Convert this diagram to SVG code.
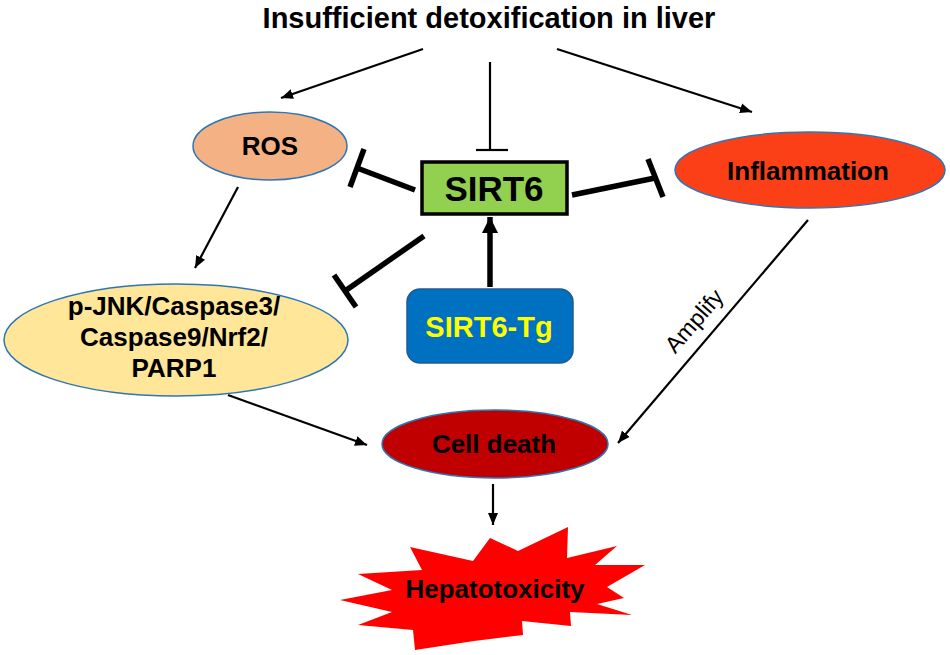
<svg xmlns="http://www.w3.org/2000/svg" width="950" height="655" viewBox="0 0 950 655">
<style>
  text { font-family: "Liberation Sans", Arial, sans-serif; font-weight: bold; text-anchor: middle; fill: #000; }
  text.label { font-weight: normal; }
  .thin { stroke: #000; stroke-width: 2.2; fill: none; }
  .thick { stroke: #000; stroke-width: 5.5; fill: none; }
  .node { stroke: #2E75B6; stroke-width: 1.5; }
</style>
<defs>
  <marker id="arr" markerUnits="userSpaceOnUse" markerWidth="14" markerHeight="12" refX="12" refY="6" orient="auto">
    <path d="M0,1 L12,6 L0,11 Z" fill="#000"/>
  </marker>
  <marker id="arrBig" markerUnits="userSpaceOnUse" markerWidth="20" markerHeight="18" refX="16" refY="9" orient="auto">
    <path d="M0,1 L16,9 L0,17 Z" fill="#000"/>
  </marker>
</defs>
<rect width="950" height="655" fill="#fff"/>

<g id="title">
  <text x="489" y="28" font-size="29">Insufficient detoxification in liver</text>
</g>

<g id="connectors">
  <!-- title arrows -->
  <line class="thin" x1="423" y1="49" x2="281" y2="98" marker-end="url(#arr)"/>
  <line class="thin" x1="557" y1="49" x2="752" y2="112" marker-end="url(#arr)"/>
  <line class="thin" x1="490" y1="62" x2="490" y2="150"/>
  <line class="thin" x1="476" y1="150" x2="508" y2="150"/>
  <!-- SIRT6 inhibits ROS -->
  <line class="thick" x1="415" y1="190" x2="357" y2="168"/>
  <line class="thick" x1="364" y1="149" x2="350" y2="187"/>
  <!-- SIRT6 inhibits Inflammation -->
  <line class="thick" x1="572" y1="195" x2="655" y2="178"/>
  <line class="thick" x1="648" y1="159" x2="663" y2="197"/>
  <!-- SIRT6 inhibits p-JNK -->
  <line class="thick" x1="424" y1="236" x2="345" y2="291"/>
  <line class="thick" x1="334" y1="275" x2="356" y2="307"/>
  <!-- SIRT6-Tg activates SIRT6 -->
  <line class="thick" x1="490" y1="287" x2="490" y2="217" marker-end="url(#arrBig)"/>
  <!-- ROS -> p-JNK -->
  <line class="thin" x1="238" y1="187" x2="195" y2="268" marker-end="url(#arr)"/>
  <!-- p-JNK -> Cell death -->
  <line class="thin" x1="228" y1="395" x2="367" y2="445" marker-end="url(#arr)"/>
  <!-- Inflammation -> Cell death (Amplify) -->
  <line class="thin" x1="808" y1="220" x2="618" y2="443" marker-end="url(#arr)"/>
  <text class="label" x="700" y="326" font-size="23" transform="rotate(-49 700 326)">Amplify</text>
  <!-- Cell death -> Hepatotoxicity -->
  <line class="thin" x1="493" y1="484" x2="493" y2="525" marker-end="url(#arr)"/>
</g>

<g id="ros">
  <ellipse class="node" cx="270" cy="146" rx="77" ry="34" fill="#F4B183"/>
  <text x="270" y="155" font-size="26">ROS</text>
</g>

<g id="sirt6">
  <rect x="422" y="162" width="145" height="52" fill="#92D050" stroke="#000" stroke-width="3.5"/>
  <text x="494" y="201" font-size="35">SIRT6</text>
</g>

<g id="inflammation">
  <ellipse class="node" cx="810" cy="170" rx="135" ry="38" fill="#FB4018"/>
  <text x="808" y="180" font-size="26">Inflammation</text>
</g>

<g id="pjnk">
  <ellipse class="node" cx="176" cy="340" rx="172" ry="56" fill="#FFE699"/>
  <text x="174" y="315" font-size="26">p-JNK/Caspase3/</text>
  <text x="174" y="346" font-size="26">Caspase9/Nrf2/</text>
  <text x="174" y="377" font-size="26">PARP1</text>
</g>

<g id="sirt6tg">
  <rect x="407" y="289" width="166" height="74" rx="13" ry="13" fill="#0070C0" stroke="#1F5A96" stroke-width="1.5"/>
  <text x="489" y="337" font-size="29" style="fill:#FFFF00">SIRT6-Tg</text>
</g>

<g id="celldeath">
  <ellipse class="node" cx="495" cy="444" rx="113" ry="34" fill="#C00000"/>
  <text x="494" y="453" font-size="26">Cell death</text>
</g>

<g id="hepatotoxicity">
  <polygon fill="#FF0000" points="490,538 518,551 568,527 567,558 617,546 595,565 645,565 607,587 624,598 597,604 632,615 570,612 571,626 522,621 523,635 474,641 415,650 413,630 358,625 392,612 340,600 392,590 358,574 422,570 410,547 473,561"/>
  <text x="495" y="598" font-size="26">Hepatotoxicity</text>
</g>
</svg>
